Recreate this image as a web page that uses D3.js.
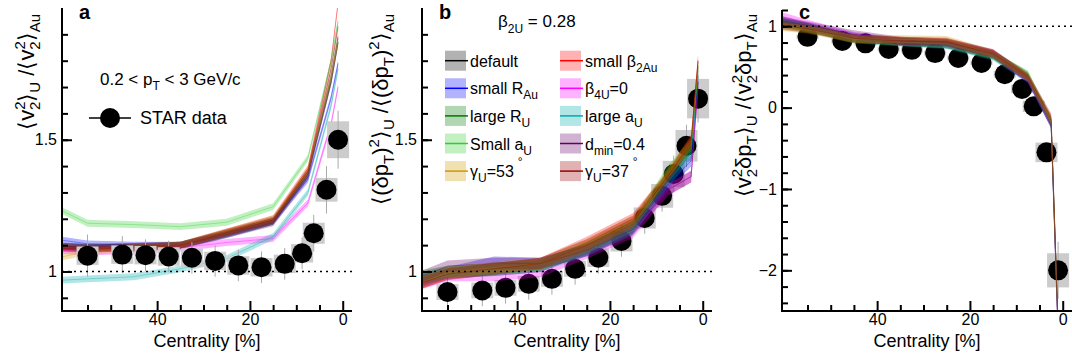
<!DOCTYPE html>
<html><head><meta charset="utf-8">
<script src="https://cdn.jsdelivr.net/npm/d3@7"></script>
<style>
body{margin:0;background:#fff}
svg{font-family:"Liberation Sans",Arial,Helvetica,sans-serif}
</style></head><body>
<svg id="chart" width="1072" height="360"></svg>
<script>
// STAR data (centrality bin centres, %)
const starCent = [55, 47.5, 42.5, 37.5, 32.5, 27.5, 22.5, 17.5, 12.5, 8.75, 6.25, 3.5, 1];
const starV2 = [1.06, 1.064, 1.062, 1.057, 1.052, 1.04, 1.023, 1.016, 1.029, 1.069, 1.145, 1.31, 1.50];
const statV2 = [0.08, 0.07, 0.06, 0.06, 0.06, 0.06, 0.06, 0.06, 0.06, 0.06, 0.07, 0.09, 0.11];
const sysV2 = [0.035, 0.035, 0.035, 0.035, 0.035, 0.035, 0.035, 0.035, 0.035, 0.035, 0.04, 0.045, 0.07];
const starPt = [0.922, 0.928, 0.938, 0.953, 0.972, 1.01, 1.052, 1.116, 1.203, 1.287, 1.37, 1.477, 1.656];
const statPt = [0.06, 0.06, 0.06, 0.06, 0.06, 0.06, 0.06, 0.06, 0.06, 0.06, 0.07, 0.08, 0.09];
const sysPt = [0.03, 0.03, 0.03, 0.03, 0.03, 0.03, 0.035, 0.04, 0.04, 0.045, 0.05, 0.06, 0.075];
const starCorr = [0.87, 0.82, 0.79, 0.72, 0.71, 0.67, 0.61, 0.55, 0.41, 0.23, 0.016, -0.55, -2.0];
const statCorr = [0.06, 0.05, 0.05, 0.05, 0.05, 0.05, 0.05, 0.05, 0.05, 0.06, 0.08, 0.12, 0.35];
const sysCorr = [0.03, 0.03, 0.03, 0.03, 0.03, 0.03, 0.03, 0.03, 0.04, 0.05, 0.07, 0.12, 0.21];

// model calculations (legend order)
const modelCent = [65, 55, 45, 35, 25, 15, 7.5, 2.5, 1];
const modelColors = ["#000000", "#ff0000", "#0000ff", "#ff00ff", "#007700", "#00aaaa", "#33cc33", "#660066", "#cc9900", "#990000"];
const modelLabels = [
  [["default", 0]],
  [["small β", 0], ["2Au", 5, 1]],
  [["small R", 0], ["Au", 5, 1]],
  [["β", 0], ["4U", 5, 1], ["=0", 0]],
  [["large R", 0], ["U", 5, 1]],
  [["large a", 0], ["U", 5, 1]],
  [["Small a", 0], ["U", 5, 1]],
  [["d", 0], ["min", 5, 1], ["=0.4", 0]],
  [["γ", 0], ["U", 5, 1], ["=53", 0], ["°", -11, 1, 4]],
  [["γ", 0], ["U", 5, 1], ["=37", 0], ["°", -11, 1, 4]]
];
const modelV2 = [
  [1.10, 1.092, 1.095, 1.10, 1.145, 1.19, 1.37, 1.74, 1.89],
  [1.09, 1.088, 1.095, 1.10, 1.15, 1.20, 1.39, 1.80, 2.02],
  [1.13, 1.105, 1.10, 1.10, 1.14, 1.19, 1.35, 1.66, 1.79],
  [1.085, 1.075, 1.078, 1.09, 1.11, 1.125, 1.26, 1.56, 1.70],
  [1.10, 1.09, 1.093, 1.10, 1.143, 1.19, 1.37, 1.72, 1.87],
  [0.963, 0.972, 0.98, 1.01, 1.05, 1.133, 1.30, 1.63, 1.77],
  [1.27, 1.183, 1.178, 1.17, 1.187, 1.246, 1.43, 1.80, 1.95],
  [1.10, 1.09, 1.09, 1.097, 1.14, 1.185, 1.36, 1.72, 1.87],
  [1.04, 1.075, 1.09, 1.10, 1.15, 1.20, 1.38, 1.74, 1.88],
  [1.09, 1.085, 1.09, 1.10, 1.148, 1.195, 1.38, 1.77, 1.93]
];
const modelPt = [
  [0.94, 0.995, 1.005, 1.02, 1.09, 1.18, 1.35, 1.47, 1.78],
  [0.93, 0.99, 1.01, 1.03, 1.11, 1.20, 1.36, 1.50, 1.80],
  [0.95, 0.995, 1.035, 1.03, 1.08, 1.165, 1.33, 1.42, 1.72],
  [0.93, 0.985, 0.985, 1.00, 1.07, 1.15, 1.31, 1.36, 1.70],
  [0.96, 1.0, 1.01, 1.025, 1.085, 1.17, 1.36, 1.47, 1.76],
  [0.95, 0.995, 1.005, 1.02, 1.08, 1.16, 1.34, 1.45, 1.74],
  [0.97, 1.0, 1.01, 1.025, 1.09, 1.175, 1.38, 1.48, 1.77],
  [0.95, 1.02, 1.03, 1.03, 1.08, 1.16, 1.31, 1.36, 1.72],
  [0.93, 0.995, 1.015, 1.03, 1.10, 1.19, 1.37, 1.49, 1.78],
  [0.93, 0.99, 1.01, 1.03, 1.10, 1.19, 1.36, 1.49, 1.80]
];
const modelCorr = [
  [1.10, 0.99, 0.85, 0.81, 0.79, 0.65, 0.36, -0.18, -2.7],
  [1.08, 0.98, 0.85, 0.82, 0.80, 0.66, 0.37, -0.15, -2.7],
  [1.12, 1.0, 0.87, 0.81, 0.78, 0.64, 0.35, -0.2, -2.75],
  [1.20, 1.03, 0.88, 0.81, 0.78, 0.66, 0.36, -0.2, -2.8],
  [1.10, 0.99, 0.85, 0.81, 0.78, 0.65, 0.40, -0.18, -2.7],
  [1.08, 0.98, 0.84, 0.80, 0.77, 0.63, 0.36, -0.2, -2.75],
  [1.06, 0.97, 0.85, 0.81, 0.78, 0.64, 0.40, -0.15, -2.7],
  [1.12, 1.01, 0.90, 0.82, 0.80, 0.67, 0.36, -0.2, -2.75],
  [1.02, 0.96, 0.84, 0.84, 0.83, 0.66, 0.37, -0.15, -2.7],
  [1.04, 0.97, 0.85, 0.82, 0.81, 0.66, 0.38, -0.12, -2.65]
];
const bandHalf = [0.013, 0.022, 0.05];

const svg = d3.select("#chart");
const bottom = 311;

// tspans with sub/superscripts: [text, shift, small?, dx]
function rich(sel, parts, big, small) {
  let prev = 0;
  parts.forEach(([t, off, isSmall, dx]) => {
    sel.append("tspan")
      .attr("dy", off - prev)
      .attr("dx", dx || 0)
      .attr("font-size", isSmall ? small : big)
      .text(t);
    prev = off;
  });
}

const panels = [
  {name: "a", x0: 62, yDomain: [0.85, 2.0], yTop: 8, major: [1, 1.5], minor: d3.range(0.9, 1.95, 0.1),
   star: starV2, stat: statV2, sys: sysV2, model: modelV2, band: bandHalf[0], pointsOnTop: true,
   titleX: 34,
   title: [["⟨v", 0], ["2", -9, 1], ["2", 6, 1, -8.5], ["⟩", 0], ["U", 6, 1], [" /⟨v", 0], ["2", -9, 1], ["2", 6, 1, -8.5], ["⟩", 0], ["Au", 6, 1]]},
  {name: "b", x0: 422, yDomain: [0.85, 2.0], yTop: 8, major: [1, 1.5], minor: d3.range(0.9, 1.95, 0.1),
   star: starPt, stat: statPt, sys: sysPt, model: modelPt, band: bandHalf[1], pointsOnTop: false,
   titleX: 388,
   title: [["⟨(δp", 0], ["T", 6, 1], [")", 0], ["2", -9, 1], ["⟩", 0], ["U", 6, 1], [" /⟨(δp", 0], ["T", 6, 1], [")", 0], ["2", -9, 1], ["⟩", 0], ["Au", 6, 1]]},
  {name: "c", x0: 782, yDomain: [-2.5, 1.2], yTop: 10, major: [-2, -1, 0, 1], minor: d3.range(-2.4, 1.21, 0.2),
   star: starCorr, stat: statCorr, sys: sysCorr, model: modelCorr, band: bandHalf[2], pointsOnTop: false,
   titleX: 751,
   title: [["⟨v", 0], ["2", -9, 1], ["2", 6, 1, -8.5], ["δp", 0], ["T", 6, 1], ["⟩", 0], ["U", 6, 1], [" /⟨v", 0], ["2", -9, 1], ["2", 6, 1, -8.5], ["δp", 0], ["T", 6, 1], ["⟩", 0], ["Au", 6, 1]]}
];

panels.forEach((p, pi) => {
  const g = svg.append("g");
  const x = d3.scaleLinear().domain([60.5, -2]).range([p.x0, p.x0 + 290]);
  const y = d3.scaleLinear().domain(p.yDomain).range([bottom, p.yTop]);

  const clipId = "clip" + p.name;
  svg.append("clipPath").attr("id", clipId)
    .append("rect").attr("x", p.x0).attr("y", p.yTop).attr("width", 290).attr("height", bottom - p.yTop);

  const data = starCent.map((c, i) => ({c, v: p.star[i], stat: p.stat[i], sys: p.sys[i]}));

  function drawPoints() {
    const pg = g.append("g").attr("clip-path", `url(#${clipId})`);
    pg.selectAll("rect.sys").data(data).join("rect")
      .attr("class", "sys")
      .attr("x", d => x(d.c) - 11).attr("width", 22)
      .attr("y", d => y(d.v + d.sys)).attr("height", d => y(d.v - d.sys) - y(d.v + d.sys))
      .attr("fill", "#cccccc");
    pg.selectAll("line.stat").data(data).join("line")
      .attr("class", "stat")
      .attr("x1", d => x(d.c)).attr("x2", d => x(d.c))
      .attr("y1", d => y(d.v + d.stat)).attr("y2", d => y(d.v - d.stat))
      .attr("stroke", "#aaaaaa").attr("stroke-width", 1);
    pg.selectAll("circle").data(data).join("circle")
      .attr("cx", d => x(d.c)).attr("cy", d => y(d.v)).attr("r", 10)
      .attr("fill", "#000");
  }

  function drawModels() {
    const mg = g.append("g").attr("clip-path", `url(#${clipId})`);
    p.model.forEach((vals, mi) => {
      const pts = modelCent.map((c, i) => ({c, v: vals[i]}));
      const area = d3.area().x(d => x(d.c)).y0(d => y(d.v - p.band)).y1(d => y(d.v + p.band));
      const line = d3.line().x(d => x(d.c)).y(d => y(d.v));
      mg.append("path").attr("d", area(pts))
        .attr("fill", modelColors[mi]).attr("fill-opacity", 0.3);
      mg.append("path").attr("d", line(pts))
        .attr("fill", "none").attr("stroke", modelColors[mi]).attr("stroke-opacity", 0.35).attr("stroke-width", 1);
    });
  }

  if (p.pointsOnTop) { drawModels(); drawPoints(); } else { drawPoints(); drawModels(); }

  // dotted reference line at 1
  g.append("line")
    .attr("x1", p.x0).attr("x2", p.x0 + 290)
    .attr("y1", y(1)).attr("y2", y(1))
    .attr("stroke", "#000").attr("stroke-width", 1.5).attr("stroke-dasharray", "2,4");

  // y axis
  const yMajor = g.append("g").attr("transform", `translate(${p.x0},0)`)
    .call(d3.axisLeft(y).tickValues(p.major).tickSize(-10).tickPadding(5).tickFormat(d3.format("~g")));
  const yMinor = g.append("g").attr("transform", `translate(${p.x0},0)`)
    .call(d3.axisLeft(y).tickValues(p.minor).tickSize(-6).tickFormat(""));
  // x axis
  const xMajor = g.append("g").attr("transform", `translate(0,${bottom})`)
    .call(d3.axisBottom(x).tickValues([0, 20, 40]).tickSize(-10).tickPadding(3));
  const xMinor = g.append("g").attr("transform", `translate(0,${bottom})`)
    .call(d3.axisBottom(x).tickValues([5, 10, 15, 25, 30, 35, 45, 50, 55]).tickSize(-6).tickFormat(""));
  [yMajor, yMinor, xMajor, xMinor].forEach(a => {
    a.select(".domain").remove();
    a.selectAll("line").attr("stroke", "#000").attr("stroke-width", 2);
    a.selectAll("text").attr("font-size", 16).attr("fill", "#000").attr("font-family", null);
  });
  g.append("line").attr("x1", p.x0).attr("x2", p.x0).attr("y1", p.yTop).attr("y2", bottom + 1)
    .attr("stroke", "#000").attr("stroke-width", 2);
  g.append("line").attr("x1", p.x0 - 1).attr("x2", p.x0 + 290).attr("y1", bottom).attr("y2", bottom)
    .attr("stroke", "#000").attr("stroke-width", 2);

  g.append("text").attr("x", p.x0 + 145).attr("y", 347).attr("text-anchor", "middle")
    .attr("font-size", 18).text("Centrality [%]");

  // y title
  const yt = g.append("text").attr("text-anchor", "end")
    .attr("transform", `translate(${p.titleX},14) rotate(-90)`);
  rich(yt, p.title, 22, 15);

  // panel letter
  g.append("text").attr("x", p.x0 + 17).attr("y", 19).attr("font-size", 20).attr("font-weight", "bold").text(p.name);
});

// panel a annotations
const ann = svg.append("text").attr("x", 100).attr("y", 85);
rich(ann, [["0.2 < p", 0], ["T", 5, 1], [" < 3 GeV/c", 0]], 17, 12);
svg.append("line").attr("x1", 89).attr("x2", 131).attr("y1", 118).attr("y2", 118).attr("stroke", "#000").attr("stroke-width", 1.5);
svg.append("circle").attr("cx", 110).attr("cy", 118).attr("r", 10).attr("fill", "#000");
svg.append("text").attr("x", 140).attr("y", 124).attr("font-size", 18).text("STAR data");

// panel b annotations
const beta = svg.append("text").attr("x", 498).attr("y", 27);
rich(beta, [["β", 0], ["2U", 6, 1], [" = 0.28", 0]], 17, 12);

const leg = svg.append("g");
modelLabels.forEach((lab, i) => {
  const col = i % 2, row = Math.floor(i / 2);
  const bx = col === 0 ? 445 : 560;
  const cy = 60.7 + row * 27.6;
  leg.append("rect").attr("x", bx).attr("y", cy - 10).attr("width", 21).attr("height", 20)
    .attr("fill", modelColors[i]).attr("fill-opacity", 0.3);
  leg.append("line").attr("x1", bx).attr("x2", bx + 23).attr("y1", cy).attr("y2", cy)
    .attr("stroke", modelColors[i]).attr("stroke-width", 1.5);
  const t = leg.append("text").attr("x", bx + 25).attr("y", cy + 6);
  rich(t, lab, 16, 12);
});
</script>
</body></html>
